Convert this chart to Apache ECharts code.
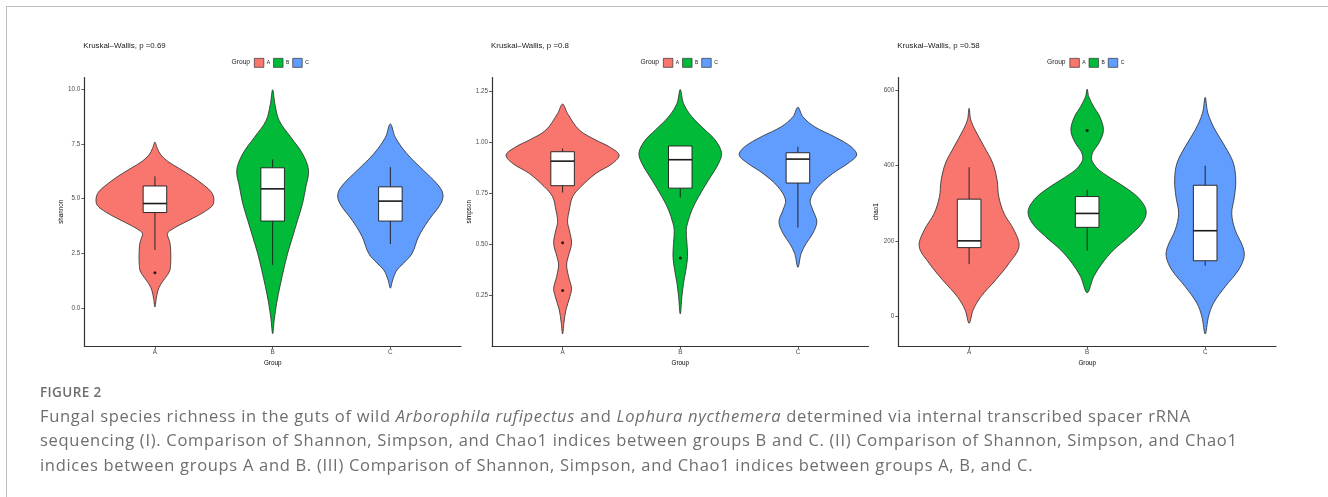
<!DOCTYPE html>
<html>
<head>
<meta charset="utf-8">
<script src="https://cdn.jsdelivr.net/npm/echarts@6/dist/echarts.min.js"></script>
<style>
  html, body { margin: 0; padding: 0; background: #fff; }
  #frame { position: absolute; left: 6px; top: 6px; width: 1322px; height: 491px;
           border-top: 1.5px solid #bdbdbd; border-left: 1.5px solid #bdbdbd; box-sizing: border-box; }
  #chart { position: absolute; left: 0; top: 0; width: 1328px; height: 497px; }
  #caption { position: absolute; left: 40px; top: 384px; font-family: 'Open Sans', sans-serif;
             color: #6e6e6e; white-space: nowrap; }
  #caption .fig { font-size: 13.5px; font-weight: 600; letter-spacing: 0.4px; line-height: 17px; margin-bottom: 3px; }
  #caption .txt { font-size: 16.5px; letter-spacing: 0.7px; line-height: 24.4px; }
</style>
</head>
<body>
<div id="frame"></div>
<div id="chart"></div>
<div id="caption">
  <div class="fig">FIGURE 2</div>
  <div class="txt">Fungal species richness in the guts of wild <i>Arborophila rufipectus</i> and <i>Lophura nycthemera</i> determined via internal transcribed spacer rRNA<br>sequencing (I). Comparison of Shannon, Simpson, and Chao1 indices between groups B and C. (II) Comparison of Shannon, Simpson, and Chao1<br>indices between groups A and B. (III) Comparison of Shannon, Simpson, and Chao1 indices between groups A, B, and C.</div>
</div>
<script>
// ---- data ----
const groups = ['A', 'B', 'C'];
const pValues = ['0.69', '0.8', '0.58'];
const indexNames = ['shannon', 'simpson', 'chao1'];

const shannonTicks = [0, 2.5, 5, 7.5, 10];
const simpsonTicks = [0.25, 0.5, 0.75, 1.0, 1.25];
const chao1Ticks = [0, 200, 400, 600];

// violin outlines: [value, half width as a fraction of the group spacing]
const shannonDensityA = [[7.58,0],[7.3,0.02],[7.0,0.05],[6.7,0.11],[6.4,0.20],[6.0,0.32],[5.6,0.42],[5.3,0.48],[5.0,0.50],[4.7,0.49],[4.4,0.42],[4.1,0.32],[3.8,0.21],[3.55,0.13],[3.4,0.105],[3.2,0.115],[3.0,0.127],[2.7,0.133],[2.3,0.135],[2.0,0.133],[1.7,0.125],[1.4,0.09],[1.1,0.05],[0.8,0.025],[0.4,0.01],[0.06,0]];
const shannonDensityB = [[9.97,0],[9.3,0.02],[8.56,0.056],[7.8,0.155],[7.05,0.254],[6.3,0.305],[5.54,0.282],[4.78,0.254],[4.02,0.212],[3.27,0.17],[2.5,0.127],[1.75,0.093],[1.0,0.062],[0.24,0.034],[-0.51,0.014],[-1.16,0]];
const shannonDensityC = [[8.41,0],[7.8,0.042],[7.05,0.141],[6.29,0.282],[5.69,0.395],[5.23,0.446],[4.78,0.429],[4.02,0.325],[3.27,0.24],[2.5,0.184],[2.06,0.113],[1.75,0.056],[1.3,0.02],[0.92,0]];

const simpsonDensityA = [[1.185,0],[1.139,0.042],[1.058,0.142],[1.009,0.283],[0.976,0.397],[0.936,0.48],[0.895,0.425],[0.846,0.283],[0.781,0.156],[0.732,0.085],[0.667,0.057],[0.61,0.042],[0.569,0.057],[0.504,0.076],[0.439,0.048],[0.398,0.034],[0.341,0.051],[0.284,0.076],[0.243,0.062],[0.178,0.028],[0.113,0.011],[0.061,0]];
const simpsonDensityB = [[1.256,0],[1.188,0.028],[1.123,0.099],[1.058,0.212],[1.009,0.297],[0.947,0.351],[0.895,0.326],[0.814,0.241],[0.732,0.156],[0.667,0.099],[0.602,0.062],[0.569,0.051],[0.504,0.057],[0.439,0.062],[0.374,0.048],[0.309,0.028],[0.243,0.014],[0.159,0]];
const simpsonDensityC = [[1.169,0],[1.123,0.042],[1.074,0.142],[1.025,0.312],[0.976,0.453],[0.936,0.499],[0.895,0.425],[0.846,0.297],[0.781,0.17],[0.716,0.105],[0.667,0.127],[0.61,0.161],[0.553,0.127],[0.504,0.071],[0.455,0.028],[0.387,0]];

const chao1DensityA = [[553,0],[522,0.014],[495,0.051],[451,0.127],[407,0.2],[362,0.237],[318,0.251],[273,0.296],[229,0.38],[185,0.423],[140,0.338],[96,0.225],[51,0.099],[16,0.034],[-19.5,0]];
const chao1DensityB = [[604,0],[584,0.014],[557,0.056],[531,0.107],[494,0.138],[460,0.099],[438,0.051],[420,0.037],[407,0.051],[389,0.099],[362,0.225],[336,0.352],[309,0.451],[278,0.501],[247,0.465],[211,0.352],[176,0.225],[140,0.127],[105,0.056],[62,0]];
const chao1DensityC = [[582,0],[540,0.023],[495,0.085],[451,0.169],[407,0.239],[362,0.259],[318,0.248],[273,0.225],[229,0.254],[185,0.318],[158,0.33],[122,0.282],[78,0.169],[34,0.07],[-2,0.028],[-48,0]];

// box summaries per group: [lower whisker, Q1, median, Q3, upper whisker]
const shannonBox = [[2.66,4.37,4.78,5.58,6.02],[1.98,3.98,5.45,6.41,6.79],[2.93,3.98,4.89,5.54,6.44]];
const simpsonBox = [[0.752,0.786,0.906,0.952,0.968],[0.729,0.774,0.913,0.98,0.98],[0.581,0.799,0.916,0.947,0.976]];
const chao1Box = [[138,182,200,311,396],[174,236,273,318,336],[134,147,227,348,400]];

// outliers: [group index, value]
const shannonOutliers = [[0,1.62]];
const simpsonOutliers = [[0,0.507],[0,0.274],[1,0.432]];
const chao1Outliers = [[1,494]];

// ---- layout & style ----
const groupColors = ['#F8766D', '#00BA38', '#619CFF'];
const FONT = "'Liberation Sans', Arial, sans-serif";
const panels = [
  { left: 84.3,  right: 461,    yMin: -1.72, yMax: 10.53, ticks: shannonTicks, dec: 1,
    density: [shannonDensityA, shannonDensityB, shannonDensityC], box: shannonBox, out: shannonOutliers, legendX: 254 },
  { left: 492,   right: 868.5,  yMin: 0.002, yMax: 1.315, ticks: simpsonTicks, dec: 2,
    density: [simpsonDensityA, simpsonDensityB, simpsonDensityC], box: simpsonBox, out: simpsonOutliers, legendX: 663 },
  { left: 898.3, right: 1276,   yMin: -80,   yMax: 635,   ticks: chao1Ticks, dec: 0,
    density: [chao1DensityA, chao1DensityB, chao1DensityC], box: chao1Box, out: chao1Outliers, legendX: 1069.5 }
];
const GRID_TOP = 77.5, GRID_BOTTOM = 346;
const AXIS_COLOR = '#333';
const LABEL_COLOR = '#4d4d4d';

function violinRenderer(profile) {
  return function (params, api) {
    const g = api.value(0);
    const unit = api.size([1, 0])[0];
    const right = [], left = [];
    profile.forEach(function (d) {
      const p = api.coord([g, d[0]]);
      right.push([p[0] + d[1] * unit, p[1]]);
      left.push([p[0] - d[1] * unit, p[1]]);
    });
    const pts = right.concat(left.slice(1, -1).reverse());
    return {
      type: 'polygon',
      shape: { points: pts, smooth: 0.35 },
      style: { fill: api.visual('color'), stroke: '#2b2b2b', lineWidth: 0.8 }
    };
  };
}

function boxRenderer(params, api) {
  const g = api.value(0);
  const unit = api.size([1, 0])[0];
  const half = 0.1 * unit;
  const lo = api.coord([g, api.value(1)]);
  const q1 = api.coord([g, api.value(2)]);
  const md = api.coord([g, api.value(3)]);
  const q3 = api.coord([g, api.value(4)]);
  const hi = api.coord([g, api.value(5)]);
  const x = lo[0];
  const lineStyle = { stroke: '#1a1a1a', lineWidth: 0.9 };
  return {
    type: 'group',
    children: [
      { type: 'line', shape: { x1: x, y1: lo[1], x2: x, y2: q1[1] }, style: lineStyle },
      { type: 'line', shape: { x1: x, y1: q3[1], x2: x, y2: hi[1] }, style: lineStyle },
      { type: 'rect', shape: { x: x - half, y: q3[1], width: 2 * half, height: q1[1] - q3[1] },
        style: { fill: '#fff', stroke: '#1a1a1a', lineWidth: 0.9 } },
      { type: 'line', shape: { x1: x - half, y1: md[1], x2: x + half, y2: md[1] },
        style: { stroke: '#1a1a1a', lineWidth: 1.6 } }
    ]
  };
}

const grid = [], xAxis = [], yAxis = [], series = [], title = [], legend = [], graphic = [];

panels.forEach(function (pn, i) {
  grid.push({ left: pn.left, top: GRID_TOP, width: pn.right - pn.left, height: GRID_BOTTOM - GRID_TOP, containLabel: false });
  xAxis.push({
    gridIndex: i, type: 'value', min: -0.6, max: 2.6, position: 'bottom',
    name: 'Group', nameLocation: 'middle', nameGap: 10.5,
    nameTextStyle: { fontFamily: FONT, fontSize: 6.3, color: '#000' },
    axisLine: { show: true, onZero: false, lineStyle: { color: AXIS_COLOR, width: 1.2 } },
    axisTick: { show: true, length: 3, customValues: [0, 1, 2], lineStyle: { color: AXIS_COLOR, width: 0.8 } },
    axisLabel: { customValues: [0, 1, 2], formatter: function (v) { return groups[Math.round(v)]; },
                 fontFamily: FONT, fontSize: 6.3, color: LABEL_COLOR, margin: 3 },
    splitLine: { show: false }
  });
  yAxis.push({
    gridIndex: i, type: 'value', min: pn.yMin, max: pn.yMax, position: 'left',
    name: indexNames[i], nameLocation: 'middle', nameGap: 19,
    nameTextStyle: { fontFamily: FONT, fontSize: 6.3, color: '#000' },
    axisLine: { show: true, onZero: false, lineStyle: { color: AXIS_COLOR, width: 1.2 } },
    axisTick: { show: true, length: 3, customValues: pn.ticks, lineStyle: { color: AXIS_COLOR, width: 0.8 } },
    axisLabel: { customValues: pn.ticks, formatter: function (v) { return v.toFixed(pn.dec); },
                 fontFamily: FONT, fontSize: 6.3, color: LABEL_COLOR, margin: 4 },
    splitLine: { show: false }
  });
  title.push({
    text: 'Kruskal\u2013Wallis, p =' + pValues[i], left: pn.left - 1, top: 41.5, padding: 0,
    textStyle: { fontFamily: FONT, fontSize: 7.9, fontWeight: 'normal', color: '#1a1a1a' }
  });
  legend.push({
    data: groups, left: pn.legendX, top: 58, padding: 0, orient: 'horizontal',
    itemWidth: 9.5, itemHeight: 9, itemGap: 3, icon: 'rect', selectedMode: false,
    itemStyle: { borderColor: '#333', borderWidth: 0.7 },
    textStyle: { fontFamily: FONT, fontSize: 5, color: '#1a1a1a', padding: [0, 0, 0, -2] }
  });
  graphic.push({
    type: 'text', left: pn.legendX - 22.5, top: 58.5,
    style: { text: 'Group', font: '6.7px ' + FONT, fill: '#1a1a1a' }
  });

  groups.forEach(function (gname, g) {
    series.push({
      name: gname, type: 'custom', xAxisIndex: i, yAxisIndex: i,
      itemStyle: { color: groupColors[g] },
      renderItem: violinRenderer(pn.density[g]),
      data: [[g]], z: 1, silent: true
    });
  });
  series.push({
    type: 'custom', xAxisIndex: i, yAxisIndex: i, renderItem: boxRenderer, z: 2, silent: true,
    data: pn.box.map(function (b, g) { return [g].concat(b); })
  });
  series.push({
    type: 'scatter', xAxisIndex: i, yAxisIndex: i, symbolSize: 3, z: 3, silent: true,
    itemStyle: { color: '#000' }, data: pn.out
  });
});

const chart = echarts.init(document.getElementById('chart'), null, { renderer: 'canvas' });
chart.setOption({
  animation: false,
  backgroundColor: 'transparent',
  title: title, legend: legend, grid: grid, xAxis: xAxis, yAxis: yAxis,
  graphic: graphic, series: series
});
</script>
</body>
</html>
